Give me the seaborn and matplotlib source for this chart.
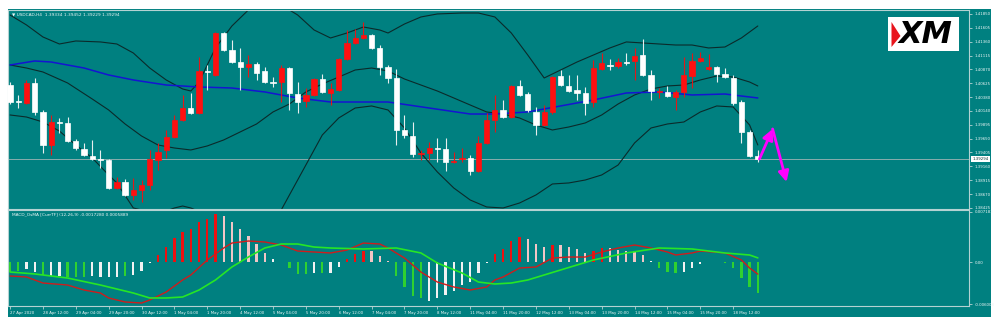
import matplotlib
matplotlib.use("Agg")
import matplotlib.pyplot as plt
import matplotlib.transforms as mtransforms
from matplotlib.patches import Rectangle, Polygon
import seaborn as sns

sns.set_theme(style="white")
plt.rcParams['font.family'] = ['DejaVu Sans']

# ---- USDCAD H4 candles (27 Apr 20:00 .. 19 May 00:00) ----
opens = [1.40596, 1.40314, 1.40279, 1.40632, 1.40120, 1.39537, 1.39943, 1.39926, 1.39608, 1.39467,
         1.39343, 1.39290, 1.39272, 1.38778, 1.38884, 1.38655, 1.38743, 1.38831, 1.39272, 1.39449,
         1.39679, 1.39979, 1.40190, 1.40102, 1.40843, 1.40773, 1.41514, 1.41214, 1.41002, 1.40914,
         1.40967, 1.40843, 1.40649, 1.40649, 1.40896, 1.40437, 1.40314, 1.40420, 1.40702, 1.40455,
         1.40508, 1.41055, 1.41338, 1.41426, 1.41479, 1.41250, 1.40914, 1.40720, 1.39802, 1.39696,
         1.39378, 1.39396, 1.39484, 1.39467, 1.39237, 1.39290, 1.39308, 1.39078, 1.39573, 1.39979,
         1.40155, 1.40031, 1.40579, 1.40437, 1.40120, 1.39890, 1.40120, 1.40755, 1.40579, 1.40508,
         1.40455, 1.40296, 1.40879, 1.40949, 1.40932, 1.41002, 1.41020, 1.41126, 1.40773, 1.40473,
         1.40473, 1.40384, 1.40473, 1.40755, 1.41020, 1.40879, 1.40914, 1.40790, 1.40720, 1.40296,
         1.39767, 1.39334]
highs = [1.40649, 1.40420, 1.40685, 1.40720, 1.40155, 1.40067, 1.40014, 1.40031, 1.39643, 1.39573,
         1.39626, 1.39449, 1.39290, 1.38972, 1.38937, 1.38955, 1.38919, 1.39449, 1.39573, 1.39802,
         1.40067, 1.40420, 1.40455, 1.41091, 1.40949, 1.41532, 1.41532, 1.41391, 1.41250, 1.41126,
         1.41002, 1.40914, 1.40737, 1.40949, 1.40914, 1.40649, 1.40543, 1.40720, 1.40790, 1.40632,
         1.41073, 1.41567, 1.41585, 1.41709, 1.41497, 1.41302, 1.40949, 1.40879, 1.40067, 1.39943,
         1.39449, 1.39590, 1.39661, 1.39661, 1.39414, 1.39484, 1.39361, 1.39696, 1.40102, 1.40420,
         1.40332, 1.40596, 1.40685, 1.40473, 1.40208, 1.40243, 1.40755, 1.40861, 1.40773, 1.40773,
         1.40561, 1.41038, 1.41161, 1.41055, 1.41073, 1.41161, 1.41250, 1.41408, 1.40861, 1.40543,
         1.40579, 1.40508, 1.41091, 1.41161, 1.41179, 1.41144, 1.40932, 1.40896, 1.40773, 1.40332,
         1.39802, 1.39452]
lows = [1.40261, 1.40190, 1.40261, 1.40067, 1.39396, 1.39361, 1.39749, 1.39590, 1.39449, 1.39343,
        1.39272, 1.39131, 1.38761, 1.38761, 1.38637, 1.38566, 1.38531, 1.38743, 1.39096, 1.39308,
        1.39661, 1.39961, 1.40084, 1.40084, 1.40508, 1.40755, 1.41197, 1.40985, 1.40508, 1.40737,
        1.40685, 1.40632, 1.40561, 1.40296, 1.40155, 1.40102, 1.40208, 1.40402, 1.40455, 1.40243,
        1.40490, 1.41038, 1.41320, 1.41408, 1.41232, 1.40773, 1.40632, 1.39537, 1.39661, 1.39325,
        1.39272, 1.39272, 1.39237, 1.39078, 1.39219, 1.39237, 1.39008, 1.39061, 1.39555, 1.39767,
        1.40014, 1.40014, 1.40402, 1.40120, 1.39714, 1.39873, 1.40084, 1.40579, 1.40473, 1.40332,
        1.40067, 1.40208, 1.40861, 1.40861, 1.40896, 1.40949, 1.40685, 1.40755, 1.40332, 1.40367,
        1.40384, 1.40155, 1.40384, 1.40543, 1.41002, 1.40861, 1.40649, 1.40720, 1.40243, 1.39573,
        1.39325, 1.39229]
closes = [1.40296, 1.40296, 1.40632, 1.40120, 1.39537, 1.39943, 1.39926, 1.39608, 1.39484, 1.39361,
          1.39290, 1.39272, 1.38778, 1.38884, 1.38655, 1.38743, 1.38831, 1.39290, 1.39414, 1.39679,
          1.39979, 1.40190, 1.40102, 1.40843, 1.40826, 1.41514, 1.41214, 1.41002, 1.40914, 1.40967,
          1.40808, 1.40649, 1.40632, 1.40896, 1.40455, 1.40296, 1.40420, 1.40702, 1.40473, 1.40526,
          1.41055, 1.41338, 1.41426, 1.41479, 1.41250, 1.40914, 1.40720, 1.39802, 1.39714, 1.39378,
          1.39396, 1.39484, 1.39467, 1.39237, 1.39255, 1.39308, 1.39078, 1.39573, 1.39979, 1.40155,
          1.40031, 1.40579, 1.40420, 1.40155, 1.39890, 1.40120, 1.40737, 1.40596, 1.40490, 1.40455,
          1.40279, 1.40896, 1.40985, 1.40932, 1.41002, 1.40985, 1.41108, 1.40773, 1.40490, 1.40490,
          1.40402, 1.40473, 1.40773, 1.41020, 1.41073, 1.40914, 1.40790, 1.40737, 1.40279, 1.39767,
          1.39343, 1.39294]

# ---- Bollinger bands (20) and moving average, sampled by bar ----
bb_upper_bar = [0, 2, 4, 6, 8, 11, 13, 15, 17, 19, 21, 22, 23, 25, 27, 29, 31, 33, 35, 37, 39, 41, 43,
                45, 46, 48, 50, 52, 55, 57, 59, 61, 63, 65, 67, 69, 71, 73, 75, 77, 79, 81, 83, 85,
                87, 89, 90, 91]
bb_upper = [1.41832, 1.41656, 1.41444, 1.41320, 1.41373, 1.41356, 1.41320, 1.41161, 1.40896, 1.40685,
            1.40526, 1.40490, 1.40649, 1.41250, 1.41638, 1.41920, 1.42062, 1.42009, 1.41832, 1.41567,
            1.41426, 1.41514, 1.41620, 1.41567, 1.41514, 1.41673, 1.41797, 1.41850, 1.41867, 1.41867,
            1.41797, 1.41514, 1.41126, 1.40720, 1.40861, 1.41002, 1.41126, 1.41250, 1.41356, 1.41338,
            1.41320, 1.41302, 1.41302, 1.41250, 1.41267, 1.41426, 1.41532, 1.41638]
bb_mid_bar = [0, 2, 4, 7, 10, 12, 14, 16, 18, 20, 22, 24, 26, 28, 30, 32, 34, 36, 38, 40, 42, 44, 46,
              48, 50, 52, 54, 56, 58, 60, 62, 64, 66, 68, 70, 72, 74, 76, 78, 80, 82, 84, 86, 88,
              90, 91]
bb_mid = [1.40949, 1.40896, 1.40826, 1.40632, 1.40349, 1.40155, 1.39908, 1.39696, 1.39537, 1.39484,
          1.39449, 1.39520, 1.39626, 1.39767, 1.39908, 1.40120, 1.40261, 1.40473, 1.40614, 1.40737,
          1.40861, 1.40896, 1.40843, 1.40702, 1.40596, 1.40490, 1.40367, 1.40243, 1.40120, 1.40084,
          1.40014, 1.39890, 1.39802, 1.39855, 1.39926, 1.40067, 1.40261, 1.40420, 1.40526, 1.40579,
          1.40596, 1.40685, 1.40755, 1.40737, 1.40649, 1.40579]
bb_lower_bar = [0, 2, 4, 6, 8, 10, 12, 13, 15, 16, 18, 20, 21, 22, 24, 26, 28, 30, 32, 34, 36, 38, 40,
                42, 44, 46, 48, 50, 52, 54, 56, 58, 60, 62, 64, 66, 68, 70, 72, 74, 76, 78, 80, 82,
                84, 86, 88, 90, 91]
bb_lower = [1.40067, 1.40031, 1.39943, 1.39784, 1.39537, 1.39308, 1.39008, 1.38867, 1.38425, 1.38390,
            1.38319, 1.38425, 1.38460, 1.38425, 1.38301, 1.37948, 1.37771, 1.37754, 1.38125, 1.38655,
            1.39184, 1.39714, 1.40014, 1.40190, 1.40226, 1.40155, 1.39837, 1.39396, 1.39061, 1.38778,
            1.38566, 1.38443, 1.38425, 1.38513, 1.38655, 1.38849, 1.38867, 1.38919, 1.39008, 1.39184,
            1.39573, 1.39837, 1.39908, 1.39943, 1.40120, 1.40226, 1.40208, 1.39890, 1.39537]
ma_bar = [0, 3, 5, 9, 12, 15, 19, 23, 27, 31, 35, 39, 46, 51, 56, 59, 63, 69, 71, 75, 79, 83, 87, 91]
ma_slow = [1.40949, 1.41020, 1.41002, 1.40896, 1.40773, 1.40685, 1.40596, 1.40561, 1.40543, 1.40473,
           1.40367, 1.40296, 1.40296, 1.40190, 1.40084, 1.40084, 1.40120, 1.40279, 1.40332, 1.40455,
           1.40473, 1.40420, 1.40437, 1.40367]

# ---- MACD_OsMA (12,26,9) ----
osma = [-0.00143, -0.00129, -0.00100, -0.00143, -0.00186, -0.00200, -0.00200, -0.00214, -0.00214, -0.00214,
        -0.00200, -0.00214, -0.00214, -0.00214, -0.00200, -0.00186, -0.00129, -0.00014, 0.00100, 0.00214,
        0.00343, 0.00429, 0.00471, 0.00571, 0.00614, 0.00686, 0.00657, 0.00571, 0.00471, 0.00371,
        0.00257, 0.00129, 0.00043, -0.00007, -0.00086, -0.00171, -0.00171, -0.00157, -0.00157, -0.00157,
        -0.00071, 0.00043, 0.00114, 0.00157, 0.00157, 0.00086, 0.00010, -0.00200, -0.00357, -0.00486,
        -0.00514, -0.00557, -0.00514, -0.00471, -0.00414, -0.00329, -0.00286, -0.00157, -0.00014, 0.00114,
        0.00186, 0.00300, 0.00357, 0.00329, 0.00257, 0.00214, 0.00243, 0.00243, 0.00214, 0.00186,
        0.00129, 0.00157, 0.00200, 0.00200, 0.00171, 0.00157, 0.00157, 0.00100, 0.00014, -0.00086,
        -0.00143, -0.00157, -0.00143, -0.00086, -0.00029, 0.00004, -0.00004, -0.00021, -0.00086, -0.00229,
        -0.00357, -0.00443]
osma_state = list("GGWWGWWGGGWWWWGWWWRRRRRRRRPPPPPPWGGGGWGWWRRRPPPGGGGWWWWWWWWRRRRPPPRPPPPRRPPPPPWGGGWWWRGGGGGG")
state_colors = {"G": "#2fd12f", "W": "#f2f2f2", "R": "#ee1010", "P": "#f2c6c6"}

macd_bar = [0, 2, 4, 7, 9, 11, 12, 14, 16, 17, 19, 21, 22, 24, 26, 27, 29, 31, 33, 35, 37, 39, 41, 43,
            45, 46, 48, 50, 52, 54, 56, 58, 59, 60, 62, 64, 66, 68, 70, 72, 74, 76, 78, 80, 81, 83,
            84, 87, 89, 90, 91]
macd_main = [-0.00200, -0.00214, -0.00300, -0.00329, -0.00400, -0.00443, -0.00514, -0.00571, -0.00586,
             -0.00543, -0.00429, -0.00257, -0.00186, 0.00029, 0.00200, 0.00271, 0.00300, 0.00286, 0.00243,
             0.00157, 0.00143, 0.00129, 0.00171, 0.00271, 0.00257, 0.00200, 0.00057, -0.00143, -0.00286,
             -0.00357, -0.00400, -0.00357, -0.00257, -0.00214, -0.00086, -0.00071, 0.00057, 0.00071,
             0.00071, 0.00143, 0.00200, 0.00243, 0.00200, 0.00143, 0.00100, 0.00129, 0.00157, 0.00129,
             0.00029, -0.00086, -0.0017280]
signal_bar = [0, 3, 7, 11, 15, 17, 19, 21, 23, 25, 27, 29, 31, 33, 35, 37, 39, 43, 47, 50, 52, 55, 57,
              59, 61, 63, 67, 71, 75, 79, 83, 87, 90, 91]
macd_signal = [-0.00143, -0.00171, -0.00229, -0.00329, -0.00443, -0.00514, -0.00514, -0.00500, -0.00400,
               -0.00257, -0.00071, 0.00071, 0.00200, 0.00257, 0.00257, 0.00214, 0.00200, 0.00186, 0.00200,
               0.00129, -0.00014, -0.00157, -0.00286, -0.00314, -0.00300, -0.00257, -0.00114, 0.00029,
               0.00129, 0.00200, 0.00186, 0.00129, 0.00100, 0.0005889]

# ---- axis labels ----
time_tick_bars = [0, 4, 8, 12, 16, 20, 24, 28, 32, 36, 40, 44, 48, 52, 56, 60, 64, 68, 72, 76, 80, 84, 88]
time_labels = ["27 Apr 2020", "28 Apr 12:00", "29 Apr 04:00", "29 Apr 20:00", "30 Apr 12:00",
               "1 May 04:00", "1 May 20:00", "4 May 12:00", "5 May 04:00", "5 May 20:00",
               "6 May 12:00", "7 May 04:00", "7 May 20:00", "8 May 12:00", "11 May 04:00",
               "11 May 20:00", "12 May 12:00", "13 May 04:00", "13 May 20:00", "14 May 12:00",
               "15 May 04:00", "15 May 20:00", "18 May 12:00"]
price_ticks = [1.41850, 1.41605, 1.41360, 1.41115, 1.40870, 1.40625, 1.40380, 1.40140, 1.39895,
               1.39650, 1.39405, 1.39160, 1.38915, 1.38670, 1.38425]
macd_ticks = [0.007183, 0.0, -0.006008]
macd_tick_labels = ["0.007183", "0.00", "-0.006008"]
last_price = 1.39294

# projected path (drawn arrows)
path_bar = [91.2, 92.8, 94.5]
path_price = [1.39290, 1.39820, 1.38884]

TEAL = "#008080"
FRAME = "#b4d2d2"
TXT = "#eef6f6"
FS = 2.8
FS_HEAD = 3.1

fig = plt.figure(figsize=(10, 3.25), dpi=100, facecolor="white")
fig.patches.append(Rectangle((0.008, 1 - 317 / 325), 0.983, 308 / 325, transform=fig.transFigure,
                             facecolor=TEAL, edgecolor="none", zorder=-5))
ax = fig.add_axes([0.008, 1 - 208.5 / 325, 0.961, 198.5 / 325])
axm = fig.add_axes([0.008, 1 - 306 / 325, 0.961, 96 / 325], sharex=ax)
for a in (ax, axm):
    a.set_facecolor(TEAL)
    a.set_zorder(1)
    for s in a.spines.values():
        s.set_color(FRAME)
        s.set_linewidth(0.8)
    a.grid(False)

bars = list(range(len(opens)))
up = [c > o for o, c in zip(opens, closes)]
cand_col = ["#ff1010" if u else "#ffffff" for u in up]
wick_col = ["#e01818" if u else "#e8eeee" for u in up]
ax.vlines(bars, lows, highs, colors=wick_col, linewidth=0.8, zorder=3)
ax.bar(bars, [abs(c - o) for o, c in zip(opens, closes)], bottom=[min(o, c) for o, c in zip(opens, closes)],
       width=0.64, color=cand_col, edgecolor=cand_col, linewidth=0.5, zorder=4)

for xs, ys in ((bb_upper_bar, bb_upper), (bb_mid_bar, bb_mid), (bb_lower_bar, bb_lower)):
    sns.lineplot(x=xs, y=ys, ax=ax, color="#0b2a2a", linewidth=0.8, sort=False, zorder=2)
sns.lineplot(x=ma_bar, y=ma_slow, ax=ax, color="#1414d2", linewidth=1.1, sort=False, zorder=2)

ax.axhline(last_price, color="#9fb4b4", linewidth=0.6, zorder=1)
for (x0, y0), (x1, y1) in zip(zip(path_bar[:-1], path_price[:-1]), zip(path_bar[1:], path_price[1:])):
    ax.annotate("", xy=(x1, y1), xytext=(x0, y0),
                arrowprops=dict(arrowstyle="-|>,head_length=0.9,head_width=0.45", color="#ff00ff",
                                lw=2.0, shrinkA=0, shrinkB=0, mutation_scale=7), zorder=6)

ax.set_xlim(-0.25, 116.7)
ax.set_ylim(1.38416, 1.41920)
ax.yaxis.tick_right()
ax.set_yticks(price_ticks)
ax.set_yticklabels([f"{v:.5f}" for v in price_ticks])
ax.tick_params(axis="y", colors=FRAME, labelcolor=TXT, labelsize=FS, length=2, width=0.6, pad=2.0,
               left=False, right=True)
ax.tick_params(axis="x", bottom=False, labelbottom=False)
ax.set_xlabel("")
ax.set_ylabel("")

trans = mtransforms.blended_transform_factory(ax.transAxes, ax.transData)
ax.text(1.0035, last_price, f"{last_price:.5f}", transform=trans, fontsize=FS, color="#0a3030",
        va="center", ha="left", bbox=dict(boxstyle="square,pad=0.3", fc="white", ec="none"), zorder=7,
        clip_on=False)

# MACD panel
axm.bar(bars, osma, width=0.28, color=[state_colors[s] for s in osma_state], linewidth=0, zorder=2)
sns.lineplot(x=macd_bar, y=macd_main, ax=axm, color="#d01c1c", linewidth=1.0, sort=False, zorder=3)
sns.lineplot(x=signal_bar, y=macd_signal, ax=axm, color="#26e626", linewidth=1.2, sort=False, zorder=4)
axm.set_ylim(-0.006286, 0.00743)
axm.yaxis.tick_right()
axm.set_yticks(macd_ticks)
axm.set_yticklabels(macd_tick_labels)
axm.tick_params(axis="y", colors=FRAME, labelcolor=TXT, labelsize=FS, length=2, width=0.6, pad=2.0,
                left=False, right=True)
axm.set_xticks(time_tick_bars)
axm.set_xticklabels(time_labels, ha="left")
axm.tick_params(axis="x", colors=FRAME, labelcolor=TXT, labelsize=FS, length=2, width=0.6, pad=1.6,
                bottom=True)
axm.set_xlabel("")
axm.set_ylabel("")

# panel headers
fig.text(0.012, 1 - 14 / 325, "\u25bc USDCAD,H4  1.39334 1.39452 1.39229 1.39294", fontsize=FS_HEAD,
         color=TXT, va="center", ha="left", zorder=8)
fig.text(0.012, 1 - 214 / 325, "MACD_OsMA [CurrTF] (12,26,9) -0.0017280 0.0005889", fontsize=FS_HEAD,
         color=TXT, va="center", ha="left", zorder=8)

# broker badge
fig.patches.append(Rectangle((0.888, 1 - 51 / 325), 0.071, 34 / 325, transform=fig.transFigure,
                             facecolor="white", edgecolor="none", zorder=5))
fig.patches.append(Polygon([(0.8915, 1 - 22 / 325), (0.9005, 1 - 36 / 325), (0.8915, 1 - 47 / 325)],
                           closed=True, transform=fig.transFigure, facecolor="#e8141c",
                           edgecolor="none", zorder=6))
fig.text(0.9255, 1 - 34.5 / 325, "XM", fontsize=22, fontweight="bold", fontstyle="italic",
         color="black", va="center", ha="center", zorder=7)

fig.savefig("out.png", dpi=100, facecolor="white")
